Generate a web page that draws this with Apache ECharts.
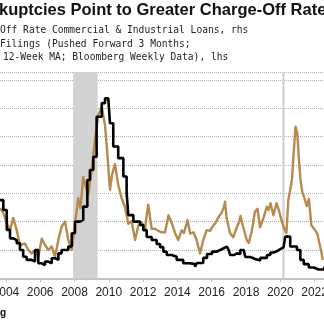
<!DOCTYPE html>
<html>
<head>
<meta charset="utf-8">
<script src="https://cdn.jsdelivr.net/npm/echarts@6/dist/echarts.min.js"></script>
<style>
  html, body { margin: 0; padding: 0; background: #ffffff; }
  #chart { width: 324px; height: 324px; }
</style>
</head>
<body>
<div id="chart"></div>
<script>
// Bankruptcy filings (12-week MA, pushed forward 3 months), lhs — decimal year / value
const bkDates = [2003.66, 2003.85, 2004.05, 2004.24, 2004.43, 2004.63, 2004.82, 2005.01, 2005.21, 2005.50,
  2005.70, 2005.89, 2006.09, 2006.28, 2006.47, 2006.67, 2006.86, 2007.06, 2007.25, 2007.64,
  2007.84, 2008.03, 2008.32, 2008.51, 2008.75, 2008.90, 2009.10, 2009.29, 2009.59, 2009.78,
  2009.97, 2010.07, 2010.26, 2010.55, 2010.85, 2011.04, 2011.14, 2011.43, 2011.82, 2012.01,
  2012.21, 2012.50, 2012.79, 2012.99, 2013.18, 2013.38, 2013.67, 2013.96, 2014.34, 2014.73,
  2015.03, 2015.14, 2015.51, 2015.73, 2016.02, 2016.31, 2016.50, 2016.70, 2016.89, 2016.99,
  2017.08, 2017.28, 2017.48, 2017.67, 2017.87, 2017.96, 2018.25, 2018.54, 2018.83, 2019.22,
  2019.42, 2019.62, 2019.81, 2020.00, 2020.19, 2020.29, 2020.58, 2020.97, 2021.17, 2021.37,
  2021.66, 2021.95, 2022.24, 2022.53, 2022.60];
const bkValues = [27.6, 24.1, 17.1, 14.1, 13.5, 12.4, 10.0, 7.6, 6.5, 5.9,
  10.0, 5.3, 4.7, 5.9, 5.3, 7.1, 6.5, 8.8, 10.0, 11.2,
  15.9, 20.0, 20.6, 25.3, 34.7, 38.2, 42.9, 57.0, 61.8, 63.5,
  62.9, 54.7, 46.5, 42.4, 35.9, 30.1, 22.3, 20.0, 18.8, 17.0,
  14.6, 13.5, 12.1, 11.0, 9.4, 8.2, 7.6, 6.5, 5.3, 5.0,
  4.1, 5.4, 7.2, 8.6, 9.4, 10.0, 10.6, 11.2, 11.8, 10.0,
  8.2, 8.8, 8.6, 10.0, 10.6, 7.5, 6.8, 6.3, 7.2, 8.2,
  9.1, 9.6, 10.3, 10.9, 11.6, 14.7, 11.2, 10.0, 6.5, 5.0,
  3.8, 3.1, 3.1, 3.8, 4.2];

// Charge-off rate, commercial & industrial loans (%), rhs
const coDates = [2003.66, 2003.85, 2004.05, 2004.24, 2004.43, 2004.63, 2004.82, 2005.11, 2005.31, 2005.50,
  2005.70, 2005.89, 2006.09, 2006.28, 2006.47, 2006.67, 2006.86, 2007.06, 2007.25, 2007.45,
  2007.64, 2007.84, 2008.03, 2008.22, 2008.35, 2008.51, 2008.71, 2008.81, 2009.00, 2009.19,
  2009.39, 2009.59, 2009.78, 2009.90, 2010.07, 2010.19, 2010.36, 2010.55, 2010.75, 2010.94,
  2011.14, 2011.33, 2011.53, 2011.72, 2011.92, 2012.11, 2012.30, 2012.50, 2012.69, 2012.89,
  2013.08, 2013.28, 2013.48, 2013.67, 2013.86, 2014.05, 2014.25, 2014.38, 2014.59, 2014.75,
  2014.94, 2015.12, 2015.32, 2015.51, 2015.71, 2015.90, 2016.08, 2016.22, 2016.41, 2016.57,
  2016.69, 2016.78, 2016.87, 2017.07, 2017.26, 2017.45, 2017.59, 2017.68, 2017.85, 2018.06,
  2018.17, 2018.35, 2018.52, 2018.67, 2018.82, 2019.02, 2019.21, 2019.31, 2019.43, 2019.60,
  2019.78, 2019.92, 2020.04, 2020.21, 2020.36, 2020.47, 2020.61, 2020.68, 2020.77, 2020.89,
  2020.99, 2021.09, 2021.18, 2021.28, 2021.42, 2021.54, 2021.67, 2021.81, 2021.97, 2022.16,
  2022.34, 2022.49];
const coValues = [0.99, 0.92, 0.78, 0.68, 0.85, 0.68, 0.47, 0.49, 0.40, 0.35,
  0.40, 0.30, 0.56, 0.47, 0.40, 0.45, 0.30, 0.54, 0.73, 0.80,
  0.54, 0.40, 0.78, 1.13, 0.99, 1.43, 1.25, 1.18, 1.53, 1.95,
  2.31, 2.42, 2.16, 1.81, 1.25, 1.46, 1.61, 1.32, 1.13, 1.01,
  0.77, 0.81, 0.54, 0.74, 0.79, 0.70, 1.04, 0.70, 0.70, 0.67,
  0.65, 0.65, 0.89, 0.78, 0.64, 0.54, 0.68, 0.64, 0.82, 0.63,
  0.65, 0.54, 0.35, 0.54, 0.68, 0.67, 0.74, 0.78, 0.87, 0.92,
  0.99, 1.08, 0.85, 0.64, 0.58, 0.71, 0.79, 0.88, 0.71, 0.53,
  0.50, 0.68, 0.94, 0.98, 0.72, 0.85, 1.01, 0.96, 1.06, 0.89,
  1.06, 0.96, 0.85, 0.71, 0.64, 1.11, 1.29, 1.39, 1.73, 2.14,
  2.05, 1.67, 1.39, 1.22, 1.12, 1.02, 1.12, 0.75, 0.70, 0.63,
  0.43, 0.26];

// Year tick labels shown on the x axis
const yearTicks = [2004, 2006, 2008, 2010, 2012, 2014, 2016, 2018, 2020, 2022];

// Recession periods (decimal years)
const recessions = [[2007.92, 2009.35], [2020.12, 2020.25]];

// Visible window of the time axis
const xMin = 2003.656, xMax = 2022.55;

const chart = echarts.init(document.getElementById('chart'), null, { renderer: 'canvas' });

const bkData = bkDates.map((d, i) => [d, bkValues[i]]);
const coData = coDates.map((d, i) => [d, coValues[i]]);

const option = {
  animation: false,
  backgroundColor: '#ffffff',
  grid: { left: 0, right: 0, top: 72, bottom: 45.7, containLabel: false, outerBoundsMode: 'none' },
  graphic: [
    { type: 'text', x: -1, y: 10, style: { text: 'kuptcies Point to Greater Charge-Off Rate', fontFamily: 'Liberation Sans', fontWeight: 'bold', fontSize: 16.5, fill: '#111', verticalAlign: 'middle' } },
    { type: 'text', x: 0, y: 30, style: { text: 'Off Rate Commercial & Industrial Loans, rhs', fontFamily: 'DejaVu Sans Mono', fontSize: 9.6, fill: '#222', verticalAlign: 'middle' } },
    { type: 'text', x: 0, y: 44.5, style: { text: 'Filings (Pushed Forward 3 Months;', fontFamily: 'DejaVu Sans Mono', fontSize: 9.6, fill: '#222', verticalAlign: 'middle' } },
    { type: 'text', x: 3, y: 57.5, style: { text: '12-Week MA; Bloomberg Weekly Data), lhs', fontFamily: 'DejaVu Sans Mono', fontSize: 9.6, fill: '#222', verticalAlign: 'middle' } },
    { type: 'text', x: 0, y: 313, style: { text: 'g', fontFamily: 'Liberation Sans', fontWeight: 'bold', fontSize: 10, fill: '#111', verticalAlign: 'middle' } }
  ],
  xAxis: {
    type: 'value', min: xMin, max: xMax,
    axisLine: { show: true, lineStyle: { color: '#c4c4c4', width: 2 } },
    axisTick: { show: true, length: 4, customValues: yearTicks, lineStyle: { color: '#c4c4c4', width: 1 } },
    axisLabel: { color: '#222', fontFamily: 'Liberation Sans', fontSize: 12, margin: 8, customValues: yearTicks,
      showMinLabel: true, showMaxLabel: true, hideOverlap: false, formatter: v => String(Math.round(v)) },
    splitLine: { show: false }
  },
  yAxis: [
    { type: 'value', min: 0, max: 72.8, interval: 10,
      axisLine: { show: false }, axisTick: { show: false }, axisLabel: { show: false },
      splitLine: { show: true, lineStyle: { color: '#b0b0b0', type: 'dotted', width: 1 } } },
    { type: 'value', min: 0, max: 2.912, interval: 0.4,
      axisLine: { show: false }, axisTick: { show: false }, axisLabel: { show: false },
      splitLine: { show: false } }
  ],
  series: [
    { type: 'line', name: 'recession', data: [], z: 1, silent: true,
      markArea: { silent: true, itemStyle: { color: '#d2d2d2' },
        data: recessions.map(r => [{ xAxis: r[0] }, { xAxis: r[1] }]) } },
    { type: 'line', name: 'Charge-Off Rate', yAxisIndex: 1, data: coData, showSymbol: false, z: 3,
      lineStyle: { color: '#b58a4c', width: 2.4, join: 'round' }, smooth: false },
    { type: 'line', name: 'Bankruptcy Filings', yAxisIndex: 0, data: bkData, showSymbol: false, step: 'end', z: 4,
      lineStyle: { color: '#000000', width: 2.6 } }
  ]
};
chart.setOption(option);
</script>
</body>
</html>
